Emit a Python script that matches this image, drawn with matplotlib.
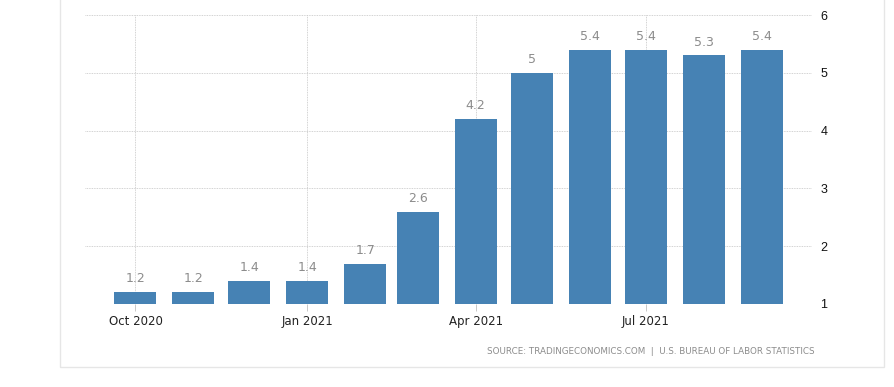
import datetime as dt
import matplotlib
matplotlib.use("Agg")
import matplotlib.pyplot as plt
import matplotlib.dates as mdates
from matplotlib.patches import Rectangle

# aylik veriler (Oct 2020 - Sep 2021)
aylar = ["2020-10", "2020-11", "2020-12", "2021-01", "2021-02", "2021-03",
         "2021-04", "2021-05", "2021-06", "2021-07", "2021-08", "2021-09"]
degerler = [1.2, 1.2, 1.4, 1.4, 1.7, 2.6, 4.2, 5, 5.4, 5.4, 5.3, 5.4]
etiketler = ["1.2", "1.2", "1.4", "1.4", "1.7", "2.6", "4.2", "5", "5.4", "5.4", "5.3", "5.4"]
tick_aylar = ["2020-10", "2021-01", "2021-04", "2021-07"]
tick_yazilar = ["Oct 2020", "Jan 2021", "Apr 2021", "Jul 2021"]
y_ticks = [1, 2, 3, 4, 5, 6]

tarihler = [dt.datetime.strptime(a, "%Y-%m") for a in aylar]
x = mdates.date2num(tarihler)
xt = mdates.date2num([dt.datetime.strptime(a, "%Y-%m") for a in tick_aylar])

fig = plt.figure(figsize=(8.94, 3.87), dpi=100)
ax = fig.add_axes([85 / 894, 0.2145, (812 - 85) / 894, 0.9612 - 0.2145])

# dis cerceve
fig.patches.append(Rectangle((60 / 894, 20 / 387), (884 - 60) / 894, 1 - 20 / 387 + 0.01,
                             transform=fig.transFigure, fill=False,
                             edgecolor="#e6e6e6", linewidth=1))

ax.bar(x, degerler, width=22.5, color="#4682b4", bottom=0, zorder=3)
for xi, v, t in zip(x, degerler, etiketler):
    ax.text(xi, v + 0.12, t, ha="center", va="bottom", fontsize=9,
            color="#8c8c8c", zorder=4)

ax.set_ylim(1, 6)
ax.set_xlim(x[0] - 27, x[-1] + 27)
ax.set_yticks(y_ticks)
ax.yaxis.tick_right()
ax.tick_params(axis="y", length=0, pad=6, labelsize=9, labelcolor="#111111")
for lab in ax.get_yticklabels():
    lab.set_family("Liberation Sans")
ax.set_xticks(xt)
ax.set_xticklabels(tick_yazilar, fontsize=8.5, color="#222222")
ax.tick_params(axis="x", length=5, color="#c8c8c8", width=0.7, pad=3)
for tl in ax.xaxis.get_ticklines():
    tl.set_linestyle((0, (1, 1)))

ax.grid(True, color="#c4c4c4", linestyle=(0, (1, 1)), linewidth=0.6, zorder=0)
for s in ax.spines.values():
    s.set_visible(False)

fig.text(815 / 894, 1 - 351 / 387, "SOURCE: TRADINGECONOMICS.COM  |  U.S. BUREAU OF LABOR STATISTICS",
         ha="right", va="center", fontsize=6.3, color="#8c8c8c")

fig.savefig("out.png", dpi=100)
